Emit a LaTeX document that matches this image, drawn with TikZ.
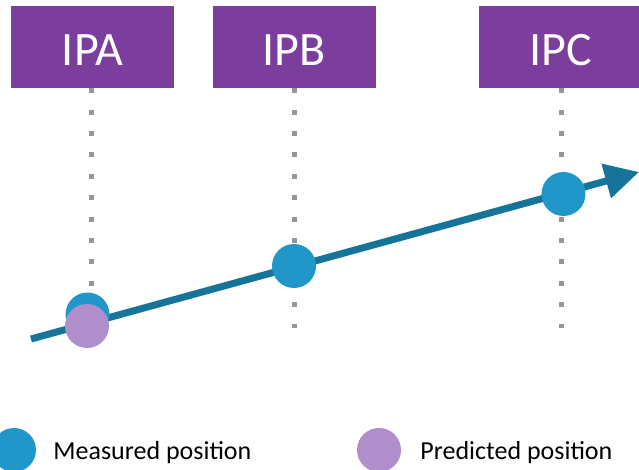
\documentclass[tikz,border=0pt]{standalone}
\usepackage{fontspec}
\setmainfont{Carlito}
\usetikzlibrary{arrows.meta, positioning}
\definecolor{ipviolet}{RGB}{123,62,156}
\definecolor{measblue}{RGB}{33,150,201}
\definecolor{trackblue}{RGB}{22,115,154}
\definecolor{predlilac}{RGB}{176,142,204}
\definecolor{dotgray}{RGB}{150,150,150}
\tikzstyle{ipbox} = [rectangle, fill=ipviolet, text=white, minimum width=163pt, minimum height=82pt, inner sep=0pt, text height=37pt, font=\fontsize{48}{52}\selectfont]
\tikzstyle{guide} = [draw=dotgray, line width=5pt, dash pattern=on 5pt off 16.4pt]
\tikzstyle{track} = [draw=trackblue, line width=7pt, -{Triangle[length=34pt,width=34pt]}]
\tikzstyle{measured} = [circle, fill=measblue, minimum size=44pt, inner sep=0pt]
\tikzstyle{predicted} = [circle, fill=predlilac, minimum size=44pt, inner sep=0pt]
\tikzstyle{legend} = [inner sep=0pt, yshift=-3pt, font=\fontsize{26}{30}\selectfont]

\begin{document}
\begin{tikzpicture}[x=1pt, y=-1pt]
\useasboundingbox (0,0) rectangle (639,470);
% access points along the top
\node [ipbox] (ipa) at (92.5,47) {IPA};
\node [ipbox] (ipb) at (294,47) {IPB};
\node [ipbox] (ipc) at (560.5,47) {IPC};
% dotted guides below each box
\coordinate (ipaend) at (91,328);
\coordinate (ipbend) at (294,328);
\coordinate (ipcend) at (561,328);
\path [guide] (ipa.south -| ipaend) -- (ipaend);
\path [guide] (ipb.south -| ipbend) -- (ipbend);
\path [guide] (ipc.south -| ipcend) -- (ipcend);
% trajectory
\coordinate (trackstart) at (31,339);
\coordinate (tracktip) at (639,172);
\path [track] (trackstart) -- (tracktip);
% positions on the track
\node [measured] (measa) at (87.5,314.5) {};
\node [predicted] (preda) at (87,326) {};
\node [measured] (measb) at (294,266) {};
\node [measured] (measc) at (563.5,194) {};
% legend
\node [measured] (keymeas) at (14,450) {};
\node [legend, right=17pt of keymeas] (keymeastext) {Measured position};
\node [predicted] (keypred) at (379,450) {};
\node [legend, right=19pt of keypred] (keypredtext) {Predicted position};
\end{tikzpicture}
\end{document}
